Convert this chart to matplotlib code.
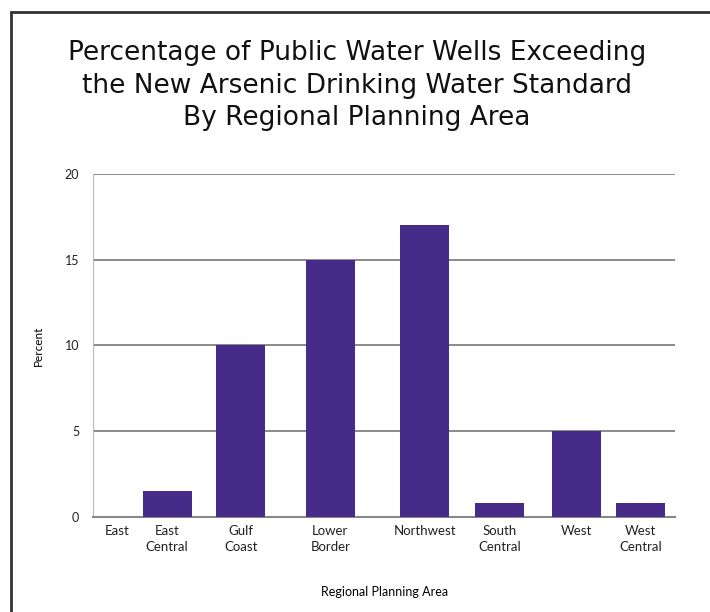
import matplotlib.pyplot as plt
from matplotlib.patches import Rectangle

areas = ["East", "East\nCentral", "Gulf\nCoast", "Lower\nBorder", "Northwest",
         "South\nCentral", "West", "West\nCentral"]
percent = [0, 1.5, 10, 15, 17, 0.8, 5, 0.8]
yticks = [0, 5, 10, 15, 20]

# uneven category spacing as in the original layout
xpos = [0.33, 1.02, 2.03, 3.26, 4.56, 5.59, 6.64, 7.52]

fig = plt.figure(figsize=(7.1, 6.12), dpi=100)
ax = fig.add_axes([0.131, 0.155, 0.82, 0.561])

ax.bar(xpos, percent, width=0.67, color="#472b88", zorder=3)
ax.set_xlim(0, 8)
ax.set_ylim(0, 20)
ax.set_yticks(yticks)
ax.set_xticks(xpos)
ax.set_xticklabels(areas, fontsize=9.5, family="Lato", color="#222222", linespacing=1.35)
ax.set_yticklabels([str(t) for t in yticks], fontsize=9, family="Lato", color="#222222")
ax.tick_params(length=0, pad=10)
ax.tick_params(axis="x", pad=6)
ax.grid(axis="y", color="#777777", linewidth=1.2, zorder=1)

for s in ["top", "right"]:
    ax.spines[s].set_visible(False)
ax.spines["left"].set_color("#bbbbbb")
ax.spines["left"].set_linewidth(0.8)
ax.spines["bottom"].set_color("#888888")
ax.spines["bottom"].set_linewidth(1.5)

ax.set_ylabel("Percent", fontsize=8.5, family="Lato", labelpad=15)
ax.set_xlabel("Regional Planning Area", fontsize=9, family="Lato", labelpad=24)

fig.text(0.503, 0.86, "Percentage of Public Water Wells Exceeding\n"
         "the New Arsenic Drinking Water Standard\nBy Regional Planning Area",
         ha="center", va="center", fontsize=19, family="DejaVu Sans",
         linespacing=1.34, color="#111111")

# outer frame, running off the right and bottom edges
fig.add_artist(Rectangle((0.0148, -0.1), 1.2, 1.1 - 0.0196, fill=False,
                         edgecolor="#333333", linewidth=2,
                         transform=fig.transFigure, clip_on=False))

fig.savefig("out.png", dpi=100)
